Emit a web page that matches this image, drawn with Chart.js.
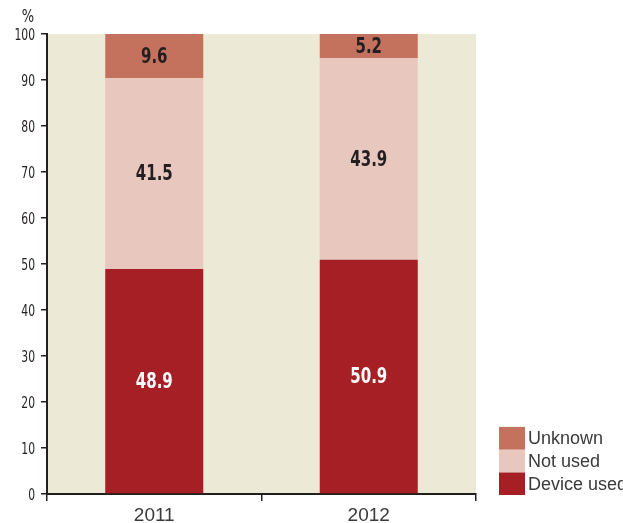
<!DOCTYPE html>
<html><head><meta charset="utf-8">
<script src="https://cdn.jsdelivr.net/npm/chart.js@4"></script>
<style>html,body{margin:0;padding:0;background:#fff}#wrap{width:623px;height:523px}</style>
</head><body><div id="wrap"><canvas id="c" width="623" height="523"></canvas></div>
<script>
const categories = ['2011', '2012'];
const deviceUsed = [48.9, 50.9];
const notUsed = [41.5, 43.9];
const unknown = [9.6, 5.2];
const yTicks = [0, 10, 20, 30, 40, 50, 60, 70, 80, 90, 100];
const seriesNames = ['Device used', 'Not used', 'Unknown'];

const COND = '"DejaVu Sans Condensed","Liberation Sans Narrow",sans-serif';

function narrowText(ctx, text, x, y, sx) {
  ctx.save();
  ctx.translate(x, y);
  ctx.scale(sx, 1);
  ctx.fillText(text, 0, 0);
  ctx.restore();
}

const bgPlugin = {
  id: 'bg',
  beforeDraw(chart) {
    const {ctx, chartArea: a} = chart;
    ctx.save();
    ctx.fillStyle = '#ECE9D6';
    ctx.fillRect(a.left, a.top, a.right - a.left, a.bottom - a.top);
    ctx.restore();
  }
};
const labelPlugin = {
  id: 'lbl',
  afterDraw(chart) {
    const {ctx} = chart;
    ctx.save();
    // data labels
    ctx.font = 'bold 22px ' + COND;
    ctx.textAlign = 'center';
    ctx.textBaseline = 'middle';
    chart.data.datasets.forEach((ds, i) => {
      const meta = chart.getDatasetMeta(i);
      meta.data.forEach((bar, j) => {
        const v = ds.data[j];
        ctx.fillStyle = i === 0 ? '#ffffff' : '#231F20';
        narrowText(ctx, v.toFixed(1), bar.x, (bar.y + bar.base) / 2 + 1, 0.76);
      });
    });
    // y tick labels
    const ys = chart.scales.y;
    ctx.font = '15px ' + COND;
    ctx.fillStyle = '#231F20';
    ctx.textAlign = 'right';
    ys.ticks.forEach(t => {
      ctx.save();
      ctx.translate(35, ys.getPixelForValue(t.value) + 2);
      ctx.scale(0.8, 1);
      ctx.fillText(String(t.value), 0, 0);
      ctx.restore();
    });
    // percent sign
    ctx.font = '17px ' + COND;
    ctx.textAlign = 'center';
    narrowText(ctx, '%', 28, 18, 0.85);
    // legend
    const lx = 499, boxW = 26, boxH = 22.7, bottom = 495;
    ctx.font = '18px "Liberation Sans","Arial",sans-serif';
    ctx.textAlign = 'left';
    const n = chart.data.datasets.length;
    for (let i = 0; i < n; i++) {
      const ds = chart.data.datasets[i];
      const y0 = bottom - (i + 1) * boxH;
      ctx.fillStyle = ds.backgroundColor;
      ctx.fillRect(lx, y0, boxW, boxH);
      ctx.fillStyle = '#3a3a3a';
      ctx.fillText(ds.label, lx + 29, y0 + boxH / 2 + 1);
    }
    ctx.restore();
  }
};

new Chart(document.getElementById('c'), {
  type: 'bar',
  data: {
    labels: categories,
    datasets: [
      {label: seriesNames[0], data: deviceUsed, backgroundColor: '#A51F24'},
      {label: seriesNames[1], data: notUsed, backgroundColor: '#E8C8BE'},
      {label: seriesNames[2], data: unknown, backgroundColor: '#C4725E'}
    ]
  },
  options: {
    responsive: false,
    animation: false,
    devicePixelRatio: 1,
    layout: {padding: {top: 34, right: 147, left: 0, bottom: 0}},
    plugins: {legend: {display: false}, tooltip: {enabled: false}},
    datasets: {bar: {categoryPercentage: 0.457, barPercentage: 1, borderWidth: 0}},
    scales: {
      x: {
        stacked: true,
        grid: {drawOnChartArea: false, tickLength: 7, color: '#231F20', lineWidth: 1.5, offset: true},
        border: {color: '#231F20', width: 2},
        ticks: {color: '#3a3a3a', font: {family: '"Liberation Sans",Arial,sans-serif', size: 19}, padding: 3},
        afterFit(s) { s.height = 29; }
      },
      y: {
        stacked: true,
        min: 0, max: 100,
        afterBuildTicks(s) { s.ticks = yTicks.map(v => ({value: v})); },
        grid: {drawOnChartArea: false, tickLength: 6, color: '#231F20', lineWidth: 1.5},
        border: {color: '#231F20', width: 2},
        ticks: {display: false},
        afterFit(s) { s.width = 47; }
      }
    }
  },
  plugins: [bgPlugin, labelPlugin]
});
</script></body></html>
